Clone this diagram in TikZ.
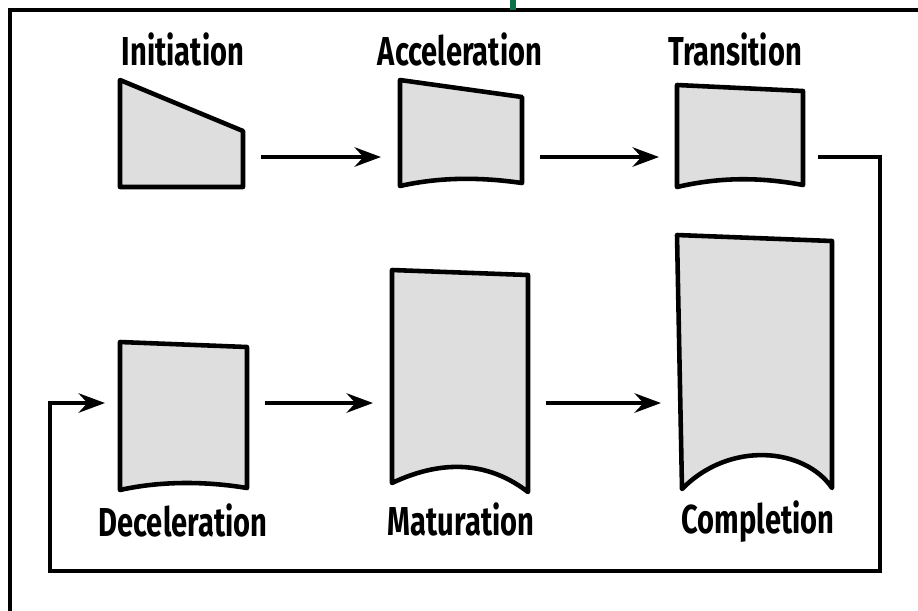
\documentclass[tikz,border=0pt]{standalone}
\usepackage{fontspec}
\usepackage{xcolor}
\usepackage{tikz}
\newfontfamily\phasefont{Fira Sans}[FakeStretch=0.72]
\usetikzlibrary{
	arrows.meta,
	calc,
	positioning
}
\definecolor{stagegray}{RGB}{222,222,222}
\definecolor{tabgreen}{RGB}{12,112,72}
\tikzset{
	stage/.style={draw=black, fill=stagegray, line width=2.6pt, line join=round},
	flow/.style={-{Stealth[length=15pt,width=11pt,inset=5pt]}, line width=2.4pt, shorten <=0.36cm, shorten >=0.38cm},
	phase/.style={font=\phasefont\bfseries\fontsize{23}{26}\selectfont, anchor=base, inner sep=0pt}
}
\begin{document}
\begin{tikzpicture}[x=0.02cm, y=-0.02cm]
		\useasboundingbox (0,0) rectangle (918,610);
		\clip (0,0) rectangle (918,610);
		\draw[line width=2pt] (10,640) -- (10,10) -- (940,10);
		\fill[tabgreen] (510,-5) rectangle (516,10);
		% top row
		\draw[stage] (120,80) -- (243,131) -- (243,187) -- (120,187) -- cycle;
		\draw[stage] (400,80) -- (522,97) -- (522,183) .. controls (480,177) and (440,177) .. (400,186) -- cycle;
		\draw[stage] (677,85) -- (803,91) -- (803,185) .. controls (760,177) and (720,177) .. (677,187) -- cycle;
		% bottom row
		\draw[stage] (120,342) -- (247,347) -- (247,488) .. controls (205,481) and (160,481) .. (120,490) -- cycle;
		\draw[stage] (392,270) -- (528,275) -- (528,492) .. controls (480,455) and (430,465) .. (392,483) -- cycle;
		\draw[stage] (677,235) -- (832,241) -- (832,488) .. controls (805,448) and (730,440) .. (682,489) -- cycle;
		\coordinate (ini-e) at (243,157);
		\coordinate (acc-w) at (400,157);
		\coordinate (acc-e) at (522,157);
		\coordinate (tr-w) at (678,157);
		\coordinate (tr-e) at (803,157);
		\coordinate (dec-w) at (120,403);
		\coordinate (dec-e) at (247,403);
		\coordinate (mat-w) at (392,403);
		\coordinate (mat-e) at (528,403);
		\coordinate (comp-w) at (680,403);
		\coordinate (loop-r) at (880,571);
		\coordinate (loop-l) at (50,571);
		\node[phase] (ini-lbl) at (183,65) {Initiation};
		\node[phase] (acc-lbl) at (460,65) {Acceleration};
		\node[phase] (tr-lbl) at (735,65) {Transition};
		\node[phase] (dec-lbl) at (183,536) {Deceleration};
		\node[phase] (mat-lbl) at (461,535) {Maturation};
		\node[phase] (comp-lbl) at (758,533) {Completion};
		\draw[flow] (ini-e) -- (acc-w);
		\draw[flow] (acc-e) -- (tr-w);
		\draw[flow] (dec-e) -- (mat-w);
		\draw[flow] (mat-e) -- (comp-w);
		\draw[flow, shorten <=0.3cm, shorten >=0.3cm] (tr-e) -| (loop-r) -- (loop-l) |- (dec-w);
	\end{tikzpicture}
\end{document}
